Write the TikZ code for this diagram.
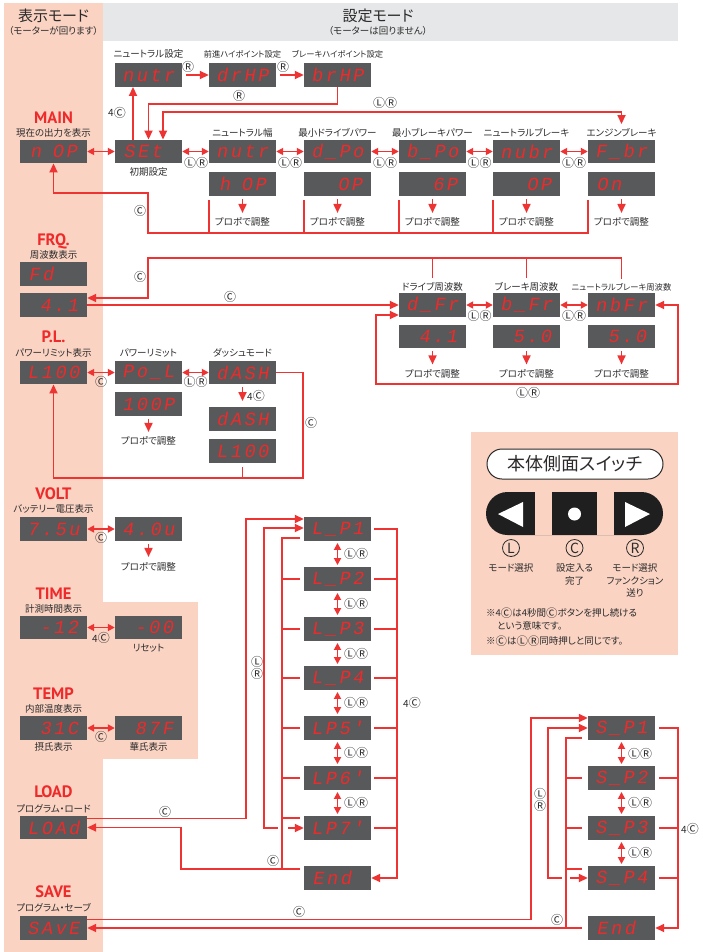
\documentclass[tikz,border=0pt]{standalone}
\usepackage{fontspec}
\setmainfont{Noto Sans CJK JP}[RawFeature=+palt]
\newfontfamily\symfont{Noto Sans CJK JP}
\newfontfamily\segfont[FakeSlant=0.18,LetterSpace=14]{Liberation Mono}
\newfontfamily\hdfont{PT Sans}
\usetikzlibrary{arrows.meta,calc}

\definecolor{salmon}{HTML}{FAD3C3}
\definecolor{hdgray}{HTML}{E6E7E8}
\definecolor{dspgray}{HTML}{58595B}
\definecolor{segred}{HTML}{EE2A2A}
\definecolor{lnred}{HTML}{EE3333}
\definecolor{txtgray}{HTML}{2B2B2B}

\newcommand\swL{\raisebox{-0.08em}{\scalebox{1.2}{\symfont Ⓛ}}}
\newcommand\swC{\raisebox{-0.08em}{\scalebox{1.2}{\symfont Ⓒ}}}
\newcommand\swR{\raisebox{-0.08em}{\scalebox{1.2}{\symfont Ⓡ}}}

\tikzset{
  disp/.style={fill=dspgray, minimum width=67pt, minimum height=23.5pt, inner sep=0pt, text=segred, font=\segfont\fontsize{18.5}{18.5}\selectfont},
  lbl/.style={text=txtgray, inner sep=0pt, text height=8.2pt, text depth=1.3pt, font=\fontsize{9.5}{10}\selectfont},
  slbl/.style={lbl, font=\fontsize{8.3}{9}\selectfont, text height=7.2pt, text depth=1.1pt},
  lbl2/.style={text=txtgray, inner sep=0pt, font=\fontsize{9.5}{12.8}\selectfont},
  key/.style={text=txtgray, inner sep=0pt, text height=9pt, text depth=1pt, font=\fontsize{10}{12}\selectfont},
  vkey/.style={text=txtgray, inner sep=0pt, align=center, font=\fontsize{10}{12.5}\selectfont},
  ttl/.style={text=segred, inner sep=0pt, text height=11.8pt, text depth=0pt, font=\hdfont\bfseries\fontsize{16.5}{16.5}\selectfont},
  hdr/.style={text=txtgray, inner sep=0pt, text height=13pt, text depth=2pt, font=\fontsize{15}{15}\selectfont},
  sub/.style={lbl},
  wire/.style={draw=lnred, line width=1.7pt},
  arr/.style={wire, -{Triangle[length=9pt,width=8pt]}},
  rarr/.style={wire, {Triangle[length=9pt,width=8pt]}-},
  arr2/.style={wire, {Triangle[length=9pt,width=8pt]}-{Triangle[length=9pt,width=8pt]}},
  darr/.style={wire, {Triangle[length=7pt,width=7pt]}-{Triangle[length=7pt,width=7pt]}},
  swttl/.style={draw=txtgray, line width=1pt, fill=white, rounded corners=15pt, minimum width=176pt, minimum height=30pt, inner sep=0pt, text=txtgray, font=\fontsize{18}{18}\selectfont},
  bigkey/.style={circle, draw=txtgray, line width=0.8pt, minimum size=17pt, inner sep=0pt, text=txtgray, font=\fontsize{14}{14}\selectfont}
}

\begin{document}
\begin{tikzpicture}[x=1pt,y=-1pt]
\useasboundingbox (0,0) rectangle (702,952);

% Backgrounds
\fill[salmon] (4,3) rectangle (103,952);
\fill[salmon] (103,602) rectangle (198,759);
\fill[hdgray] (103,3) rectangle (678,41);
\fill[salmon] (471,432) rectangle (678,655);

% Mode headers
\node[hdr] (dsphd) at (53.5,16) {表示モード};
\node[sub] (dspsub) at (53.5,31) {（モーターが回ります）};
\node[hdr] (sethd) at (378,16) {設定モード};
\node[sub] (setsub) at (378,31) {（モーターは回りません）};

% MAIN
\node[ttl] (mainttl) at (53.5,118) {MAIN};
\node[lbl] (mainlbl) at (53.5,133) {現在の出力を表示};
\node[disp] (main) at (53.5,151.5) {n\phantom{0}OP};

% Initial settings
\node[disp] (set) at (148.5,151.5) {SEt\phantom{0}};
\node[lbl] (setlbl) at (148.5,172) {初期設定};
\node[disp] (nutra) at (148.5,75) {nutr};
\node[lbl] (nutral) at (148.5,54) {ニュートラル設定};
\node[disp] (drhp) at (242.5,75) {drHP};
\node[slbl] (drhpl) at (242.5,54) {前進ハイポイント設定};
\node[disp] (brhp) at (337.5,75) {brHP};
\node[slbl] (brhpl) at (337.5,54) {ブレーキハイポイント設定};

\draw[arr] ([xshift=4pt]nutra.east) -- (drhp.west);
\node[key] at (188,67) {\swR};
\draw[arr] ([xshift=4pt]drhp.east) -- (brhp.west);
\node[key] at (283,67) {\swR};
\coordinate (brk) at (148.5,104);
\draw[arr] (brhp.south) |- (brk) -- (set.north);
\node[key] at (239,96) {\swR};
\draw[arr] ([xshift=-15.5pt]set.north) -- ([xshift=-15.5pt]nutra.south);
\node[key] at (117,113) {4\swC};

% Settings row
\node[disp] (nutw) at (242.5,151.5) {nutr};
\node[disp] (nutwv) at (242.5,184) {h\phantom{0}OP};
\node[lbl] (nutwl) at (242.5,133) {ニュートラル幅};
\node[disp] (dpo) at (337.5,151.5) {d\_Po};
\node[disp] (dpov) at (337.5,184) {\phantom{00}OP};
\node[lbl] (dpol) at (337.5,133) {最小ドライブパワー};
\node[disp] (bpo) at (432.5,151.5) {b\_Po};
\node[disp] (bpov) at (432.5,184) {\phantom{00}6P};
\node[lbl] (bpol) at (432.5,133) {最小ブレーキパワー};
\node[disp] (nubr) at (526.5,151.5) {nubr};
\node[disp] (nubrv) at (526.5,184) {\phantom{00}OP};
\node[lbl] (nubrl) at (526.5,133) {ニュートラルブレーキ};
\node[disp] (fbr) at (621.5,151.5) {F\_br};
\node[disp] (fbrv) at (621.5,184) {On\phantom{00}};
\node[lbl] (fbrl) at (621.5,133) {エンジンブレーキ};

\coordinate (lrtop) at (621.5,112);
\draw[arr2] ([xshift=14.5pt]set.north) |- (lrtop) -- ([yshift=4pt]fbrl.north);
\node[key] at (385,103) {\swL\swR};

\draw[darr] (main) -- (set);
\draw[darr] (set) -- (nutw);
\node[key] at (196,163) {\swL\swR};
\draw[darr] (nutw) -- (dpo);
\node[key] at (290,163) {\swL\swR};
\draw[darr] (dpo) -- (bpo);
\node[key] at (385,163) {\swL\swR};
\draw[darr] (bpo) -- (nubr);
\node[key] at (479.5,163) {\swL\swR};
\draw[darr] (nubr) -- (fbr);
\node[key] at (574,163) {\swL\swR};

% Adjust by propo
\draw[arr] ([yshift=-3pt]nutwv.south) -- ++(0,14);
\node[lbl] at (242.5,222) {プロポで調整};
\draw[arr] ([yshift=-3pt]dpov.south) -- ++(0,14);
\node[lbl] at (337.5,222) {プロポで調整};
\draw[arr] ([yshift=-3pt]bpov.south) -- ++(0,14);
\node[lbl] at (432.5,222) {プロポで調整};
\draw[arr] ([yshift=-3pt]nubrv.south) -- ++(0,14);
\node[lbl] at (526.5,222) {プロポで調整};
\draw[arr] ([yshift=-3pt]fbrv.south) -- ++(0,14);
\node[lbl] at (621.5,222) {プロポで調整};

% Back to MAIN
\coordinate (botl) at (148,233);
\coordinate (mainb) at (53.5,193);
\draw[arr] ([yshift=-4pt]fbrv.south west) |- (botl) |- (mainb) -- (main.south);
\draw[wire] ([yshift=-4pt]nutwv.south west) -- (nutwv.south west |- botl);
\draw[wire] ([yshift=-4pt]dpov.south west) -- (dpov.south west |- botl);
\draw[wire] ([yshift=-4pt]bpov.south west) -- (bpov.south west |- botl);
\draw[wire] ([yshift=-4pt]nubrv.south west) -- (nubrv.south west |- botl);
\node[key] at (140,211) {\swC};

% FRQ
\node[ttl] (frqttl) at (53.5,240) {FRQ.};
\node[lbl] (frqlbl) at (53.5,255) {周波数表示};
\node[disp] (fd) at (53.5,274) {Fd\phantom{00}};
\node[disp] (frq) at (53.5,305) {\phantom{0}4.1};

\node[disp] (dfr) at (432.5,305) {d\_Fr};
\node[disp] (dfrv) at (432.5,336.5) {\phantom{0}4.1};
\node[lbl] (dfrl) at (432.5,287) {ドライブ周波数};
\node[disp] (bfr) at (526.5,305) {b\_Fr};
\node[disp] (bfrv) at (526.5,336.5) {\phantom{0}5.0};
\node[lbl] (bfrl) at (526.5,287) {ブレーキ周波数};
\node[disp] (nbfr) at (621.5,305) {nbFr};
\node[disp] (nbfrv) at (621.5,336.5) {\phantom{0}5.0};
\node[slbl] (nbfrl) at (621.5,287) {ニュートラルブレーキ周波数};

\coordinate (frqtop) at (148,258);
\draw[arr] ([yshift=4pt]nbfrl.north) |- (frqtop) |- ([yshift=7pt]frq.east);
\draw[wire] ([yshift=4pt]dfrl.north) -- (dfrl.north |- frqtop);
\draw[wire] ([yshift=4pt]bfrl.north) -- (bfrl.north |- frqtop);
\node[key] at (140,277) {\swC};
\draw[arr] (frq.east) -- (dfr.west);
\node[key] at (230,297) {\swC};
\draw[darr] (dfr) -- (bfr);
\node[key] at (479.5,316) {\swL\swR};
\draw[darr] (bfr) -- (nbfr);
\node[key] at (574,316) {\swL\swR};
\coordinate (frqa) at (376,384);
\coordinate (frqb) at (678,384);
\draw[arr2] ([yshift=-10pt]dfr.west) -| (frqa) -- (frqb) |- (nbfr.east);
\node[key] at (528,393) {\swL\swR};

\draw[arr] ([yshift=-3pt]dfrv.south) -- ++(0,13);
\node[lbl] at (432.5,374) {プロポで調整};
\draw[arr] ([yshift=-3pt]bfrv.south) -- ++(0,13);
\node[lbl] at (526.5,374) {プロポで調整};
\draw[arr] ([yshift=-3pt]nbfrv.south) -- ++(0,13);
\node[lbl] at (621.5,374) {プロポで調整};

% P.L.
\node[ttl] (plttl) at (53.5,337) {P.L.};
\node[lbl] (pllbl) at (53.5,353) {パワーリミット表示};
\node[disp] (plv) at (53.5,372.5) {L100};
\node[disp] (pol) at (148.5,372.5) {Po\_L};
\node[lbl] (poll) at (148.5,353) {パワーリミット};
\node[disp] (polv) at (148.5,404) {100P};
\node[disp] (dash) at (242.5,372.5) {dASH};
\node[lbl] (dashl) at (242.5,353) {ダッシュモード};
\node[disp] (dash2) at (242.5,419) {dASH};
\node[disp] (dash3) at (242.5,451) {L100};

\draw[darr] (plv) -- (pol);
\node[key] at (101,382) {\swC};
\draw[darr] (pol) -- (dash);
\node[key] at (195.5,382) {\swL\swR};
\draw[arr] ([yshift=-3pt]polv.south) -- ++(0,13);
\node[lbl] at (148.5,441) {プロポで調整};
\draw[arr] ([yshift=-3pt]dash.south) -- ([yshift=6pt]dash2.north);
\node[key] at (256,396) {4\swC};
\coordinate (plr) at (303,478);
\coordinate (pll) at (53.5,478);
\draw[arr] (dash.east) -| (plr) -- (pll) -- (plv.south);
\draw[wire] ([yshift=-4pt]dash3.south) -- (dash3.south |- plr);
\node[key] at (311,423) {\swC};

% VOLT
\node[ttl] (vltttl) at (53.5,493.5) {VOLT};
\node[lbl] (vltlbl) at (53.5,509) {バッテリー電圧表示};
\node[disp] (vlt) at (53.5,529) {7.5u};
\node[disp] (vltv) at (148.5,529) {4.0u};
\draw[darr] (vlt) -- (vltv);
\node[key] at (101,538) {\swC};
\draw[arr] ([yshift=-3pt]vltv.south) -- ++(0,13);
\node[lbl] at (148.5,567) {プロポで調整};

% TIME
\node[ttl] (timttl) at (53.5,593.5) {TIME};
\node[lbl] (timlbl) at (53.5,609) {計測時間表示};
\node[disp] (tim) at (53.5,627.5) {\phantom{0}-12};
\node[disp] (timr) at (148.5,627.5) {\phantom{0}-00};
\draw[darr] (tim) -- (timr);
\node[key] at (101,638) {4\swC};
\node[lbl] at (148.5,648) {リセット};

% TEMP
\node[ttl] (tmpttl) at (53.5,693.5) {TEMP};
\node[lbl] (tmplbl) at (53.5,709) {内部温度表示};
\node[disp] (tmp) at (53.5,728) {\phantom{0}31C};
\node[disp] (tmpf) at (148.5,728) {\phantom{0}87F};
\draw[darr] (tmp) -- (tmpf);
\node[key] at (101,737) {\swC};
\node[lbl] at (53.5,747) {摂氏表示};
\node[lbl] at (148.5,747) {華氏表示};

% LOAD and SAVE
\node[ttl] (ldttl) at (53.5,792) {LOAD};
\node[lbl] (ldlbl) at (53.5,809) {プログラム・ロード};
\node[disp] (ld) at (53.5,827.5) {LOAd};
\node[ttl] (svttl) at (53.5,892) {SAVE};
\node[lbl] (svlbl) at (53.5,908) {プログラム・セーブ};
\node[disp] (sv) at (53.5,928) {SAvE};

% Load programs
\node[disp] (lp1) at (337.5,529) {L\_P1};
\node[disp] (lp2) at (337.5,579) {L\_P2};
\node[disp] (lp3) at (337.5,629) {L\_P3};
\node[disp] (lp4) at (337.5,678) {L\_P4};
\node[disp] (lp5) at (337.5,728) {LP5'};
\node[disp] (lp6) at (337.5,778) {LP6'};
\node[disp] (lp7) at (337.5,828) {LP7'};
\node[disp] (lpe) at (337.5,878) {End\phantom{0}};

\draw[darr] ([yshift=-2pt]lp1.south) -- ([yshift=2pt]lp2.north);
\node[key,anchor=west] at (344,554) {\swL\swR};
\draw[darr] ([yshift=-2pt]lp2.south) -- ([yshift=2pt]lp3.north);
\node[key,anchor=west] at (344,604) {\swL\swR};
\draw[darr] ([yshift=-2pt]lp3.south) -- ([yshift=2pt]lp4.north);
\node[key,anchor=west] at (344,653.5) {\swL\swR};
\draw[darr] ([yshift=-2pt]lp4.south) -- ([yshift=2pt]lp5.north);
\node[key,anchor=west] at (344,703) {\swL\swR};
\draw[darr] ([yshift=-2pt]lp5.south) -- ([yshift=2pt]lp6.north);
\node[key,anchor=west] at (344,753) {\swL\swR};
\draw[darr] ([yshift=-2pt]lp6.south) -- ([yshift=2pt]lp7.north);
\node[key,anchor=west] at (344,803) {\swL\swR};

\coordinate (ldup) at (246,519);
\draw[arr] ([yshift=9pt]ld.east) -| (ldup) -- ([yshift=10pt]lp1.west);
\node[key] at (165,812) {\swC};
\coordinate (lpl) at (264,828);
\draw[rarr] ([yshift=1pt]lp1.west) -| (lpl) -- ++(14,0);
\draw[arr] ([xshift=-16pt]lp7.west) -- (lp7.west);
\node[vkey] at (257,668) {\swL\\\swR};
\coordinate (ldret) at (181,869);
\coordinate (lpcol) at (282,869);
\draw[arr] ([xshift=-4pt,yshift=9pt]lpe.west) -- (ldret) |- (ld.east);
\draw[wire] ([xshift=-4pt,yshift=-9pt]lp1.west) -| (lpcol);
\draw[wire] ([xshift=-4pt]lp2.west) -- (lp2.west -| lpcol);
\draw[wire] ([xshift=-4pt]lp3.west) -- (lp3.west -| lpcol);
\draw[wire] ([xshift=-4pt]lp4.west) -- (lp4.west -| lpcol);
\draw[wire] ([xshift=-4pt]lp5.west) -- (lp5.west -| lpcol);
\draw[wire] ([xshift=-4pt]lp6.west) -- (lp6.west -| lpcol);
\draw[wire] ([xshift=-4pt,yshift=10pt]lp7.west) -- ++(-18,0);
\node[key] at (273,861) {\swC};
\coordinate (lpr) at (397,529);
\draw[arr] ([xshift=3pt]lp1.east) -- (lpr) |- (lpe.east);
\draw[wire] ([xshift=3pt]lp2.east) -- (lp2.east -| lpr);
\draw[wire] ([xshift=3pt]lp3.east) -- (lp3.east -| lpr);
\draw[wire] ([xshift=3pt]lp4.east) -- (lp4.east -| lpr);
\draw[wire] ([xshift=3pt]lp5.east) -- (lp5.east -| lpr);
\draw[wire] ([xshift=3pt]lp6.east) -- (lp6.east -| lpr);
\draw[wire] ([xshift=3pt]lp7.east) -- (lp7.east -| lpr);
\node[key] at (412,703) {4\swC};

% Save programs
\node[disp] (sp1) at (621.5,728) {S\_P1};
\node[disp] (sp2) at (621.5,778) {S\_P2};
\node[disp] (sp3) at (621.5,828) {S\_P3};
\node[disp] (sp4) at (621.5,878) {S\_P4};
\node[disp] (spe) at (621.5,928) {End\phantom{0}};

\draw[darr] ([yshift=-2pt]sp1.south) -- ([yshift=2pt]sp2.north);
\node[key,anchor=west] at (628,754) {\swL\swR};
\draw[darr] ([yshift=-2pt]sp2.south) -- ([yshift=2pt]sp3.north);
\node[key,anchor=west] at (628,803) {\swL\swR};
\draw[darr] ([yshift=-2pt]sp3.south) -- ([yshift=2pt]sp4.north);
\node[key,anchor=west] at (628,853) {\swL\swR};

\coordinate (svup) at (531,718);
\draw[arr] ([yshift=8.5pt]sv.east) -| (svup) -- ([yshift=10pt]sp1.west);
\node[key] at (299,912) {\swC};
\coordinate (spl) at (548,878);
\draw[rarr] (sp1.west) -| (spl) -- ++(14,0);
\draw[arr] ([xshift=-18pt]sp4.west) -- (sp4.west);
\node[vkey] at (540,800) {\swL\\\swR};
\coordinate (spcol) at (566,928);
\draw[arr] ([xshift=-6pt]spe.west) -- (sv.east);
\draw[wire] ([xshift=-6pt,yshift=-10pt]sp1.west) -| (spcol);
\draw[wire] ([xshift=-6pt]sp2.west) -- (sp2.west -| spcol);
\draw[wire] ([xshift=-6pt]sp3.west) -- (sp3.west -| spcol);
\draw[wire] ([xshift=-6pt,yshift=9pt]sp4.west) -- ++(-16,0);
\node[key] at (557,920) {\swC};
\coordinate (spr) at (678,728);
\draw[arr] ([xshift=4pt]sp1.east) -- (spr) |- (spe.east);
\draw[wire] ([xshift=4pt]sp2.east) -- (sp2.east -| spr);
\draw[wire] ([xshift=4pt]sp3.east) -- (sp3.east -| spr);
\draw[wire] ([xshift=4pt]sp4.east) -- (sp4.east -| spr);
\node[key] at (690,829) {4\swC};

% Side switch
\node[swttl] (swttl) at (575,464) {本体側面スイッチ};
\fill[black!88, rounded corners=21.5pt] (486,492) rectangle (663,535);
\fill[salmon] (535,492) rectangle (552,535);
\fill[salmon] (597,492) rectangle (614,535);
\fill[white] (498,514) -- (523,502) -- (523,527) -- cycle;
\fill[white] (650,514) -- (625,502) -- (625,527) -- cycle;
\fill[white] (574.5,514) circle (6.5);
\node[bigkey] (swl) at (511,548) {L};
\node[bigkey] (swc) at (574.5,548) {C};
\node[bigkey] (swr) at (635,548) {R};
\node[lbl2] (swll) at (511,568) {モード選択};
\node[lbl2,align=center] (swcl) at (574.5,574.5) {設定入る\\完了};
\node[lbl2,align=center] (swrl) at (635,580.5) {モード選択\\ファンクション\\送り};
\node[lbl2,anchor=west] (note1) at (486,613) {※4\swC{}は4秒間\swC{}ボタンを押し続ける};
\node[lbl2,anchor=west] (note2) at (497,626) {という意味です。};
\node[lbl2,anchor=west] (note3) at (486,641) {※\swC{}は\swL\swR{}同時押しと同じです。};
\end{tikzpicture}
\end{document}
